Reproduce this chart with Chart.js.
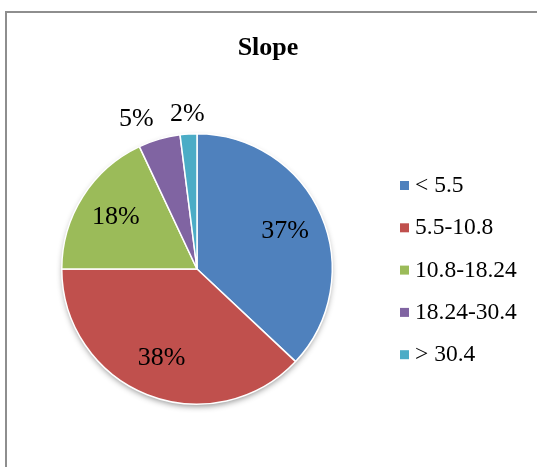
<!DOCTYPE html>
<html>
<head>
<meta charset="utf-8">
<script src="https://cdn.jsdelivr.net/npm/chart.js@4.4.1/dist/chart.umd.min.js"></script>
<style>
  body { margin: 0; background: #fff; }
  #wrap { position: relative; width: 537px; height: 467px; overflow: hidden; }
  #frame { position: absolute; left: 5px; top: 11px; width: 700px; height: 700px;
           border-left: 2px solid #8e8e8e; border-top: 2px solid #8e8e8e; }
  canvas { position: absolute; left: 0; top: 0; }
</style>
</head>
<body>
<div id="wrap">
  <div id="frame"></div>
  <canvas id="slopeChart" width="537" height="467"></canvas>
</div>
<script>
// slope classes and their share of the area, %
const categories = ['< 5.5', '5.5-10.8', '10.8-18.24', '18.24-30.4', '> 30.4'];
const shares = [37, 38, 18, 5, 2];
const sliceColors = ['#4F81BD', '#C0504D', '#9BBB59', '#8064A2', '#4BACC6'];

const serif = '"Liberation Serif", "Times New Roman", serif';

// soft drop shadow under the whole pie
const pieShadow = {
  id: 'pieShadow',
  beforeDatasetsDraw(chart) {
    const arc = chart.getDatasetMeta(0).data[0];
    if (!arc) return;
    const ctx = chart.ctx;
    ctx.save();
    ctx.shadowColor = 'rgba(0,0,0,0.45)';
    ctx.shadowBlur = 6;
    ctx.shadowOffsetY = 3;
    ctx.beginPath();
    ctx.arc(arc.x, arc.y, arc.outerRadius - 1, 0, Math.PI * 2);
    ctx.fillStyle = '#fff';
    ctx.fill();
    ctx.restore();
  }
};

// percentage labels: inside for big slices, outside for small ones
const sliceLabels = {
  id: 'sliceLabels',
  afterDatasetsDraw(chart) {
    const ctx = chart.ctx;
    const values = chart.data.datasets[0].data;
    ctx.save();
    ctx.font = '26px ' + serif;
    ctx.fillStyle = '#000';
    ctx.textBaseline = 'middle';
    chart.getDatasetMeta(0).data.forEach((arc, i) => {
      const mid = (arc.startAngle + arc.endAngle) / 2;
      const big = values[i] >= 10;
      const r = arc.outerRadius * (big ? 0.71 : 1.15);
      const x = arc.x + Math.cos(mid) * r;
      const y = arc.y + Math.sin(mid) * r;
      ctx.textAlign = big ? 'center' : (Math.cos(mid) < -0.2 ? 'right' : 'center');
      ctx.fillText(values[i] + '%', x, y);
    });
    ctx.restore();
  }
};

// title and legend drawn to the Excel-like layout
const sideLegend = {
  id: 'sideLegend',
  afterDraw(chart) {
    const ctx = chart.ctx;
    ctx.save();
    ctx.fillStyle = '#000';
    ctx.font = 'bold 26px ' + serif;
    ctx.textAlign = 'center';
    ctx.textBaseline = 'middle';
    ctx.fillText('Slope', 268, 48);

    ctx.font = '23.5px ' + serif;
    ctx.textAlign = 'left';
    chart.data.labels.forEach((label, i) => {
      const y = 186 + i * 42.3;
      ctx.fillStyle = sliceColors[i];
      ctx.fillRect(400, y - 5, 9, 9);
      ctx.fillStyle = '#000';
      ctx.fillText(label, 415, y);
    });
    ctx.restore();
  }
};

new Chart(document.getElementById('slopeChart'), {
  type: 'pie',
  data: {
    labels: categories,
    datasets: [{
      data: shares,
      backgroundColor: sliceColors,
      borderColor: '#fff',
      borderWidth: 1.5,
      hoverOffset: 0
    }]
  },
  options: {
    responsive: false,
    animation: false,
    layout: { padding: { left: 61, top: 133, right: 204, bottom: 62 } },
    plugins: {
      legend: { display: false },
      title: { display: false },
      tooltip: { enabled: false }
    }
  },
  plugins: [pieShadow, sliceLabels, sideLegend]
});
</script>
</body>
</html>
